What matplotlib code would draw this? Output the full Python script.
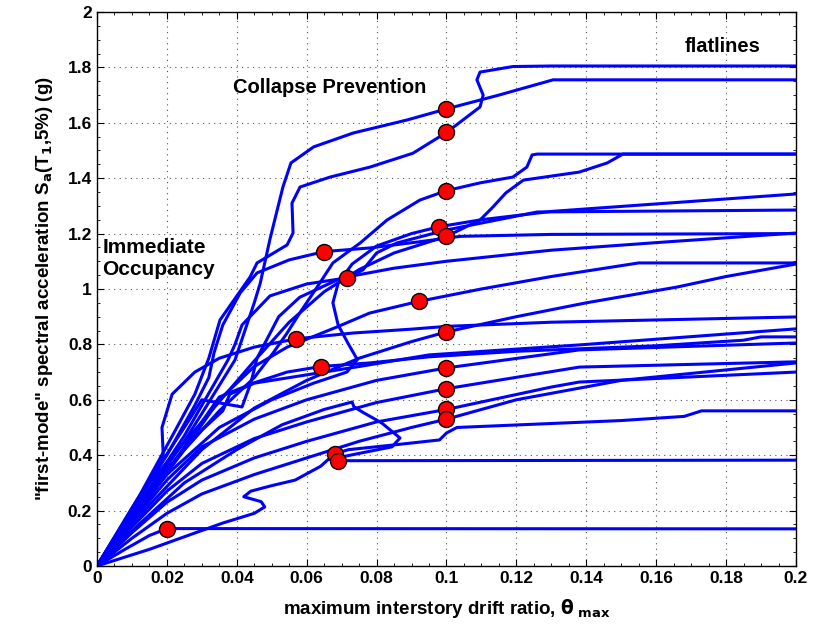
import numpy as np
import matplotlib
matplotlib.use("Agg")
import matplotlib.pyplot as plt
from matplotlib.ticker import MultipleLocator

plt.rcParams['font.family'] = ['Liberation Sans', 'DejaVu Sans']
plt.rcParams['font.weight'] = 'bold'
plt.rcParams['axes.labelweight'] = 'bold'
plt.rcParams['mathtext.default'] = 'bf'

# IDA curves: (drift ratio, Sa) pairs, one list per record
curves = [
    # capacity at 1.65, flatline 1.755
    [(0, 0), (0.012, 0.22), (0.025, 0.45), (0.030, 0.55), (0.0395, 0.744), (0.045, 0.95),
     (0.0467, 1.02), (0.0495, 1.18), (0.0532, 1.368), (0.0555, 1.455), (0.062, 1.513),
     (0.0733, 1.563), (0.0887, 1.61), (0.1, 1.65), (0.115, 1.70), (0.1305, 1.755), (0.2, 1.755)],
    # capacity at 1.565, curls up to flatline 1.805
    [(0, 0), (0.012, 0.25), (0.022, 0.48), (0.028, 0.62), (0.032, 0.75), (0.0352, 0.888),
     (0.0438, 1.043), (0.0458, 1.094), (0.0544, 1.159), (0.0561, 1.202), (0.0558, 1.31),
     (0.0581, 1.368), (0.0667, 1.404), (0.0781, 1.44), (0.0904, 1.49), (0.1, 1.565),
     (0.1096, 1.657), (0.1105, 1.70), (0.1087, 1.755), (0.1096, 1.783), (0.119, 1.803),
     (0.13, 1.805), (0.2, 1.805)],
    # capacity at 1.355, step to 1.487
    [(0, 0), (0.012, 0.22), (0.025, 0.42), (0.035, 0.56), (0.045, 0.68), (0.0504, 0.769),
     (0.0544, 0.841), (0.058, 0.913), (0.063, 1.007), (0.0675, 1.094), (0.0753, 1.166),
     (0.083, 1.249), (0.0924, 1.321), (0.1, 1.355), (0.1096, 1.383), (0.119, 1.404),
     (0.123, 1.44), (0.1245, 1.484), (0.126, 1.487), (0.2, 1.487)],
    # S-shaped loop, capacity 1.225
    [(0, 0), (0.012, 0.2), (0.02, 0.33), (0.035, 0.5), (0.05, 0.6), (0.062, 0.66),
     (0.0715, 0.70), (0.0745, 0.745), (0.072, 0.80), (0.069, 0.87), (0.0675, 0.95),
     (0.069, 1.02), (0.073, 1.09), (0.080, 1.155), (0.09, 1.20), (0.098, 1.225),
     (0.11, 1.25), (0.13, 1.28), (0.2, 1.343)],
    # capacity 1.19, rises to 1.487
    [(0, 0), (0.015, 0.3), (0.03, 0.52), (0.045, 0.74), (0.055, 0.88), (0.065, 0.99),
     (0.075, 1.07), (0.085, 1.13), (0.1, 1.19), (0.1096, 1.249), (0.1133, 1.296),
     (0.117, 1.347), (0.122, 1.393), (0.138, 1.422), (0.146, 1.455), (0.1505, 1.487), (0.2, 1.487)],
    # capacity 1.135
    [(0, 0), (0.01, 0.2), (0.02, 0.4), (0.028, 0.58), (0.032, 0.68), (0.0335, 0.77),
     (0.036, 0.87), (0.041, 0.986), (0.0458, 1.058), (0.055, 1.105), (0.065, 1.135),
     (0.078, 1.148), (0.092, 1.17), (0.104, 1.19), (0.13, 1.197), (0.2, 1.2)],
    # capacity 1.04
    [(0, 0), (0.015, 0.28), (0.025, 0.47), (0.0375, 0.744), (0.0395, 0.8), (0.0415, 0.87),
     (0.0495, 0.975), (0.06, 1.018), (0.0715, 1.04), (0.0761, 1.069), (0.080, 1.13),
     (0.0858, 1.166), (0.1, 1.213), (0.126, 1.278), (0.2, 1.285)],
    # capacity 0.955, flatline 1.094
    [(0, 0), (0.012, 0.2), (0.025, 0.42), (0.035, 0.6), (0.045, 0.72), (0.0544, 0.79),
     (0.0687, 0.863), (0.078, 0.913), (0.092, 0.955), (0.11, 1.0), (0.13, 1.045),
     (0.155, 1.094), (0.2, 1.094)],
    # capacity 0.82
    [(0, 0), (0.01, 0.2), (0.019, 0.39), (0.0186, 0.5), (0.0215, 0.62), (0.028, 0.70),
     (0.035, 0.75), (0.045, 0.79), (0.057, 0.82), (0.0733, 0.841), (0.09, 0.855),
     (0.1, 0.865), (0.13, 0.88), (0.2, 0.899)],
    # capacity 0.845 at 0.1
    [(0, 0), (0.015, 0.22), (0.03, 0.42), (0.045, 0.57), (0.06, 0.67), (0.075, 0.75),
     (0.09, 0.81), (0.1, 0.845), (0.12, 0.90), (0.14, 0.95), (0.166, 1.007), (0.18, 1.045),
     (0.2, 1.09)],
    # no capacity marker, ends 1.2
    [(0, 0), (0.012, 0.25), (0.025, 0.5), (0.03, 0.6), (0.0415, 0.574), (0.044, 0.66),
     (0.0458, 0.75), (0.052, 0.9), (0.058, 0.97), (0.07, 1.04), (0.085, 1.075), (0.1, 1.10),
     (0.13, 1.14), (0.163, 1.17), (0.2, 1.202)],
    # capacity 0.72 at 0.064
    [(0, 0), (0.01, 0.17), (0.02, 0.34), (0.03, 0.52), (0.035, 0.61), (0.0447, 0.66),
     (0.0544, 0.70), (0.064, 0.72), (0.078, 0.733), (0.095, 0.755), (0.12, 0.775),
     (0.16, 0.795), (0.185, 0.815), (0.19, 0.827), (0.2, 0.827)],
    # capacity 0.715 at 0.1
    [(0, 0), (0.01, 0.16), (0.02, 0.31), (0.03, 0.43), (0.045, 0.53), (0.06, 0.6),
     (0.08, 0.67), (0.1, 0.715), (0.138, 0.78), (0.2, 0.805)],
    # no capacity marker, ends 0.856
    [(0, 0), (0.01, 0.18), (0.02, 0.35), (0.03, 0.49), (0.036, 0.56), (0.038, 0.62),
     (0.045, 0.66), (0.055, 0.68), (0.075, 0.72), (0.095, 0.762), (0.138, 0.798), (0.2, 0.856)],
    # capacity 0.64
    [(0, 0), (0.01, 0.14), (0.02, 0.27), (0.03, 0.37), (0.045, 0.46), (0.06, 0.52),
     (0.08, 0.59), (0.1, 0.64), (0.138, 0.718), (0.2, 0.737)],
    # capacity 0.565
    [(0, 0), (0.01, 0.12), (0.02, 0.23), (0.03, 0.31), (0.045, 0.39), (0.06, 0.45),
     (0.08, 0.52), (0.1, 0.565), (0.13, 0.646), (0.138, 0.664), (0.2, 0.70)],
    # capacity 0.53
    [(0, 0), (0.01, 0.1), (0.02, 0.19), (0.03, 0.26), (0.045, 0.33), (0.06, 0.39),
     (0.075, 0.45), (0.09, 0.50), (0.1, 0.53), (0.12, 0.6), (0.15, 0.67), (0.2, 0.733)],
    # capacity 0.405, small loop low down, step near 0.1, flatline 0.56
    [(0, 0), (0.015, 0.06), (0.028, 0.119), (0.036, 0.155), (0.045, 0.19), (0.048, 0.213),
     (0.047, 0.232), (0.042, 0.25), (0.044, 0.27), (0.05, 0.29), (0.0567, 0.31),
     (0.064, 0.36), (0.068, 0.405), (0.072, 0.42), (0.085, 0.437), (0.098, 0.455),
     (0.1, 0.48), (0.103, 0.50), (0.15, 0.525), (0.168, 0.54), (0.173, 0.56), (0.2, 0.56)],
    # capacity 0.38, big loop
    [(0, 0), (0.012, 0.15), (0.025, 0.3), (0.04, 0.42), (0.053, 0.51), (0.065, 0.565),
     (0.073, 0.592), (0.0735, 0.575), (0.0759, 0.556), (0.0815, 0.516), (0.0867, 0.462),
     (0.0844, 0.43), (0.0701, 0.394), (0.069, 0.38), (0.2, 0.382)],
    # capacity 0.135
    [(0, 0), (0.008, 0.06), (0.015, 0.11), (0.02, 0.135), (0.2, 0.134)],
]

# capacity points (red dots)
cap_x = [0.1, 0.1, 0.1, 0.098, 0.1, 0.065, 0.0715, 0.092, 0.057, 0.1,
         0.064, 0.1, 0.1, 0.1, 0.1, 0.068, 0.069, 0.02]
cap_y = [1.65, 1.565, 1.355, 1.225, 1.19, 1.135, 1.04, 0.955, 0.82, 0.845,
         0.72, 0.715, 0.64, 0.565, 0.53, 0.405, 0.38, 0.135]

fig = plt.figure(figsize=(8.19, 6.37), dpi=100)
ax = fig.add_axes([0.1184, 0.1115, 0.8535, 0.8697])

for c in curves:
    xs = [p[0] for p in c]
    ys = [p[1] for p in c]
    ax.plot(xs, ys, color='#0000ff', linewidth=2.2, solid_joinstyle='round')

ax.plot(cap_x, cap_y, 'o', markersize=11.5, markerfacecolor='#ff0000',
        markeredgecolor='black', markeredgewidth=1.0, zorder=5)

ax.set_xlim(0, 0.2)
ax.set_ylim(0, 2)
ax.set_xticks(np.arange(0, 0.201, 0.02))
ax.set_xticklabels(['0', '0.02', '0.04', '0.06', '0.08', '0.1', '0.12', '0.14', '0.16', '0.18', '0.2'],
                   fontweight='bold')
ax.set_yticks(np.arange(0, 2.01, 0.2))
ax.set_yticklabels(['0', '0.2', '0.4', '0.6', '0.8', '1', '1.2', '1.4', '1.6', '1.8', '2'],
                   fontweight='bold')
ax.yaxis.set_minor_locator(MultipleLocator(0.05))
ax.xaxis.set_minor_locator(MultipleLocator(0.005))
ax.tick_params(which='both', direction='in', top=True, right=True, labelsize=12.5)
ax.tick_params(which='major', length=5)
ax.tick_params(which='minor', length=2.5)
ax.grid(True, which='major', linestyle=(0, (1, 4)), color='#555555', linewidth=0.8)
for s in ax.spines.values():
    s.set_linewidth(1.0)

ax.set_xlabel(r'maximum interstory drift ratio, $\theta_{\ max}$', fontsize=13.5,
              fontweight='bold', labelpad=8)
ax.set_ylabel(r'"first-mode" spectral acceleration S$_a$(T$_1$,5%) (g)', fontsize=13.5,
              fontweight='bold', labelpad=9)

ax.text(0.0667, 1.726, 'Collapse Prevention', fontsize=14.5, ha='center', va='center')
ax.text(0.179, 1.877, 'flatlines', fontsize=14.5, ha='center', va='center')
ax.text(0.0015, 1.11, 'Immediate\nOccupancy', fontsize=15, ha='left', va='center', linespacing=1.15)

fig.savefig('out.png', dpi=100)
